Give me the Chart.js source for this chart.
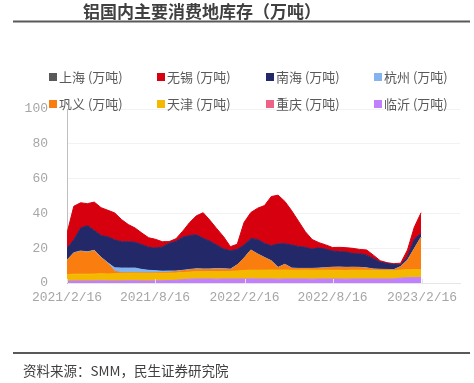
<!DOCTYPE html>
<html>
<head>
<meta charset="utf-8">
<script src="https://cdn.jsdelivr.net/npm/chart.js@4.4.0/dist/chart.umd.min.js"></script>
<style>
  html, body { margin: 0; padding: 0; background: #fff; }
</style>
</head>
<body>
<canvas id="myChart" width="474" height="383"></canvas>
<script>
// sample dates (every two weeks)
const sample_dates = [
  '2021-02-16','2021-03-02','2021-03-16','2021-03-30','2021-04-13','2021-04-27','2021-05-11','2021-05-25',
  '2021-06-08','2021-06-22','2021-07-06','2021-07-20','2021-08-03','2021-08-17','2021-08-31','2021-09-14',
  '2021-09-28','2021-10-12','2021-10-26','2021-11-09','2021-11-23','2021-12-07','2021-12-21','2022-01-04',
  '2022-01-18','2022-02-01','2022-02-15','2022-03-01','2022-03-15','2022-03-29','2022-04-12','2022-04-26',
  '2022-05-10','2022-05-24','2022-06-07','2022-06-21','2022-07-05','2022-07-19','2022-08-02','2022-08-16',
  '2022-08-30','2022-09-13','2022-09-27','2022-10-11','2022-10-25','2022-11-08','2022-11-22','2022-12-06',
  '2022-12-20','2023-01-03','2023-01-17','2023-01-31','2023-02-14'
];
const tick_labels = ['2021/2/16', '2021/8/16', '2022/2/16', '2022/8/16', '2023/2/16'];
const axis_end_date = '2023-05-05';

const shanghai = [0,0,0,0,0,0,0,0,0,0,0,0,0,0,0,0,0,0,0,0,0,0,0,0,0,0,0,0,0,0,0,0,0,0,0,0,0,0,0,0,0,0,0,0,0,0,0,0,0,0,0,0,0];
const wuxi = [8.7,19.3,14.5,12.7,16.3,16,15.3,15.5,12.8,9.9,8.2,6.7,5.5,5,3,1,1.5,3.5,7.4,10.9,14.7,12,9.5,7,2.4,3,13,15,18,21.7,28.3,28,24.3,19.7,14.5,9,5.5,3,2.5,2,2.5,2.5,3,2.5,3,2,0.8,0.5,0.5,1,4,7,11.9];
const nanhai = [6.7,7.4,13.2,15,11.4,12.5,14.9,16.1,15.1,15.1,14.8,14.2,13.2,13,13.9,15.9,17,19,19.5,19.5,17.6,15.9,13.4,11.4,10.5,8.8,7.4,6.5,8.3,8.1,8.6,13.5,11.8,13.2,12.6,12.1,11.1,11.6,10.6,9.3,8.8,8.8,7.8,7.8,7.3,5.9,4.1,3.4,2.9,0.9,1.8,5.3,2.1];
const hangzhou = [0.3,0.3,0.3,0.3,0.3,0.3,0.4,1.9,2.8,2.7,2.7,2.0,1.5,1.2,0.8,0.8,0.3,0.3,0.3,0.3,0.3,0.3,0.3,0.3,0.3,0.2,0.2,0.2,0.2,0.2,0.2,0.2,0.2,0.2,0.2,0.2,0.2,0.2,0.2,0.2,0.2,0.2,0.2,0.2,0.2,0.2,0.2,0.2,0.2,0.2,0.2,0.2,0.2];
const gongyi = [8,12,13,12.5,13.3,9.2,6,1.5,0.3,0.3,0.2,0.2,0.2,0.3,0.4,0.5,0.8,1.0,1.2,1.4,1.3,1.2,1.5,1.3,1.0,3.4,7,11.4,9.1,7.1,5.1,1.4,3.1,1,0.8,0.7,0.8,1.0,1.2,1.6,1.7,1.6,1.5,1.4,1.2,0.6,0.5,0.4,0.4,1.8,5.4,11.9,18.6];
const tianjin = [3.8,3.9,3.9,3.9,4.0,4.0,4.0,4.1,4.3,4.3,4.4,4.4,4.4,4.3,4.3,4.2,4.2,4.1,4.1,4.2,4.2,4.3,4.3,4.3,4.4,4.6,4.9,5.0,5.1,5.1,5.2,5.2,5.2,5.1,5.1,5.2,5.2,5.1,5.1,5.0,5.0,5.0,5.1,5.1,5.0,5.0,4.9,4.9,4.8,4.7,4.6,4.6,4.5];
const chongqing = [0,0,0,0,0,0,0,0,0,0,0,0,0,0,0,0,0,0,0,0,0,0,0,0,0,0,0,0,0,0,0,0,0,0,0,0,0,0,0,0,0,0,0,0,0,0,0,0,0,0,0,0,0];
const linyi = [1.1,1.2,1.2,1.2,1.2,1.3,1.2,1.2,1.2,1.3,1.3,1.2,1.2,1.3,1.3,1.4,1.6,1.9,2.2,2.3,2.3,2.3,2.2,2.3,2.3,2.3,2.3,2.4,2.3,2.3,2.3,2.2,2.3,2.3,2.3,2.3,2.2,2.3,2.3,2.3,2.3,2.2,2.3,2.3,2.3,2.3,2.3,2.3,2.3,2.8,3.0,3.1,3.1];

function day_index(str) {
    const p = str.split(/[-\/]/).map(Number);
    return Math.round((Date.UTC(p[0], p[1] - 1, p[2]) - Date.UTC(2021, 1, 16)) / 86400000);
}

const sample_days = sample_dates.map(day_index);
const tick_days = tick_labels.map(day_index);

function to_points(values) {
    return values.map((v, i) => ({x: sample_days[i], y: v}));
}

// bottom of the stack first; legend is drawn in reverse
const series = [
    {label: '临沂 (万吨)', data: linyi, color: '#bf7fff'},
    {label: '重庆 (万吨)', data: chongqing, color: '#ee6286', hidden_line: true},
    {label: '天津 (万吨)', data: tianjin, color: '#f4b800'},
    {label: '巩义 (万吨)', data: gongyi, color: '#fa7d10'},
    {label: '杭州 (万吨)', data: hangzhou, color: '#84b4ef'},
    {label: '南海 (万吨)', data: nanhai, color: '#232868'},
    {label: '无锡 (万吨)', data: wuxi, color: '#d7000f'},
    {label: '上海 (万吨)', data: shanghai, color: '#595959', hidden_line: true},
];

const cjk = '"Noto Sans CJK SC", "Noto Sans", sans-serif';
const mono = '"Liberation Mono", "DejaVu Sans Mono", monospace';

const framePlugin = {
    id: 'frame',
    beforeDraw(chart) {
        const ctx = chart.ctx;
        ctx.save();
        ctx.fillStyle = '#fff';
        ctx.fillRect(0, 0, chart.width, chart.height);
        ctx.restore();
    },
    afterDraw(chart) {
        const ctx = chart.ctx;
        ctx.save();
        // title
        ctx.fillStyle = '#404040';
        ctx.font = 'bold 17px ' + cjk;
        ctx.textBaseline = 'middle';
        ctx.textAlign = 'left';
        ctx.fillText('铝国内主要消费地库存（万吨）', 83, 12);
        ctx.strokeStyle = '#595959';
        ctx.lineWidth = 2;
        ctx.beginPath();
        ctx.moveTo(13, 21.5);
        ctx.lineTo(470, 21.5);
        ctx.stroke();
        // footer
        ctx.beginPath();
        ctx.moveTo(13, 353);
        ctx.lineTo(470, 353);
        ctx.stroke();
        ctx.fillStyle = '#404040';
        ctx.font = '13.5px ' + cjk;
        ctx.fillText('资料来源：SMM，民生证券研究院', 23, 371);

        // legend, 4 columns x 2 rows
        const cols = [49, 157, 266, 374];
        const rows = [77, 104];
        ctx.font = '13px ' + cjk;
        const items = chart.data.datasets.slice().reverse();
        items.forEach((ds, i) => {
            const x = cols[i % 4];
            const y = rows[Math.floor(i / 4)];
            ctx.fillStyle = ds.legendColor;
            ctx.fillRect(x, y - 4, 8, 8);
            ctx.fillStyle = '#595959';
            ctx.fillText(ds.label, x + 10, y);
        });
        ctx.restore();
    },
    afterDatasetsDraw(chart) {
        // small inside tick marks on the date axis
        const ctx = chart.ctx;
        const xs = chart.scales.x;
        const bottom = chart.chartArea.bottom;
        ctx.save();
        ctx.strokeStyle = '#e2e2e2';
        ctx.lineWidth = 1;
        xs.ticks.forEach(t => {
            const px = Math.round(xs.getPixelForValue(t.value)) + 0.5;
            ctx.beginPath();
            ctx.moveTo(px, bottom);
            ctx.lineTo(px, bottom - 4);
            ctx.stroke();
        });
        ctx.restore();
    }
};

const ctx = document.getElementById('myChart');

new Chart(ctx, {
    type: 'line',
    data: {
        datasets: series.map((s, i) => ({
            label: s.label,
            data: to_points(s.data),
            legendColor: s.color,
            backgroundColor: s.color,
            borderColor: s.hidden_line ? 'rgba(0,0,0,0)' : s.color,
            borderWidth: 1,
            pointRadius: 0,
            tension: 0,
            fill: i === 0 ? 'origin' : '-1'
        }))
    },
    options: {
        responsive: false,
        animation: false,
        layout: {
            padding: {top: 109, right: 14, bottom: 70, left: 0}
        },
        plugins: {
            legend: {display: false},
            title: {display: false},
            tooltip: {enabled: false}
        },
        scales: {
            x: {
                type: 'linear',
                min: 0,
                max: day_index(axis_end_date),
                afterBuildTicks: (scale) => {
                    scale.ticks = tick_days.map(v => ({value: v}));
                },
                afterFit: (scale) => { scale.height = 30; },
                grid: {display: false, drawTicks: false},
                border: {display: true, color: '#e6e6e6'},
                ticks: {
                    autoSkip: false,
                    maxRotation: 0,
                    padding: 7,
                    color: '#a6a6a6',
                    font: {family: mono, size: 13},
                    callback: (v) => tick_labels[tick_days.indexOf(v)]
                }
            },
            y: {
                stacked: true,
                min: 0,
                max: 100,
                afterFit: (scale) => { scale.width = 67; },
                grid: {color: '#f2f2f2', drawTicks: false},
                border: {display: true, color: '#bfbfbf'},
                ticks: {
                    stepSize: 20,
                    padding: 19,
                    color: '#a6a6a6',
                    font: {family: mono, size: 13}
                }
            }
        }
    },
    plugins: [framePlugin]
});
</script>
</body>
</html>
